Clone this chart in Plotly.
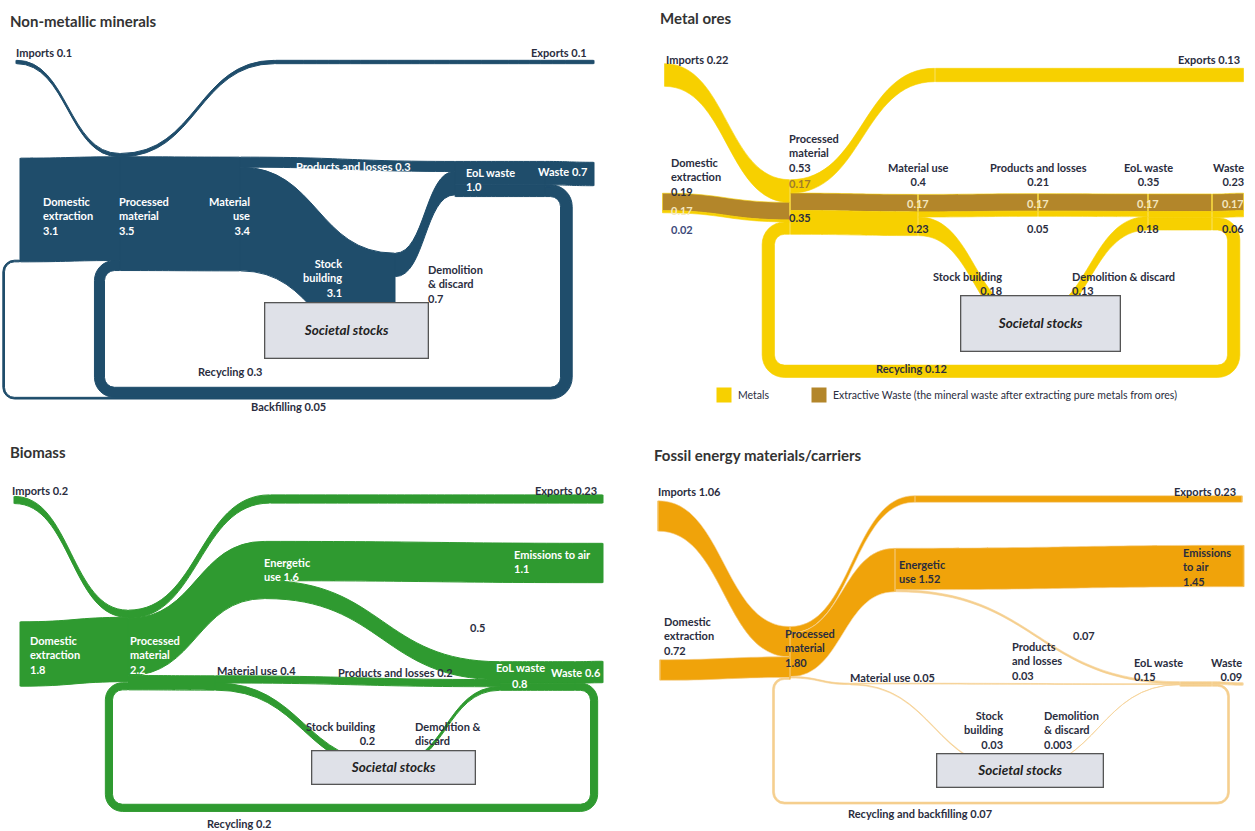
import plotly.graph_objects as go

W, H = 1255, 831

NAVY = "#1f4d6b"
YEL = "#f7d000"
BRN = "#b3862a"
GRN = "#2f9a30"
ORG = "#f0a30a"
PALE = "#f5cf8e"
DARK = "#2a2d3e"

# ---------------- data (values as printed on the chart) ----------------
# Non-metallic minerals
nm_nodes = ["Imports", "Domestic extraction", "Processed material", "Exports (out)", "Exports",
            "Material use", "Societal stocks", "EoL waste", "Waste", "EoL waste (split)"]
nm_source = [0, 1, 2, 3, 2, 5, 5, 6, 7, 7, 7, 9, 9, 9]
nm_target = [2, 2, 3, 4, 5, 7, 6, 7, 9, 9, 9, 8, 2, 1]
nm_value = [0.1, 3.1, 0.1, 0.1, 3.4, 0.3, 3.1, 0.7, 0.7, 0.3, 0.05, 0.7, 0.3, 0.05]

# Metal ores (m = metals, w = extractive waste)
mo_nodes = ["Imports", "Domestic extraction", "Processed material", "Exports (out)", "Exports",
            "Material use", "Products and losses", "Societal stocks", "EoL waste", "Waste",
            "EoL waste (split)"]
mo_source = [0, 1, 1, 2, 3, 2, 2, 5, 5, 5, 6, 6, 7, 8, 8, 8, 10, 10, 10]
mo_target = [2, 2, 2, 3, 4, 5, 5, 6, 6, 7, 8, 8, 8, 10, 10, 10, 9, 9, 2]
mo_value = [0.22, 0.17, 0.02, 0.13, 0.13, 0.17, 0.23, 0.17, 0.05, 0.18, 0.17, 0.05, 0.13,
            0.17, 0.06, 0.12, 0.17, 0.06, 0.12]
mo_kind = ["m", "w", "m", "m", "m", "w", "m", "w", "m", "m", "w", "m", "m",
           "w", "m", "m", "w", "m", "m"]

# Biomass
bi_nodes = ["Imports", "Domestic extraction", "Processed material", "Exports (out)", "Exports",
            "Energetic use", "Emissions to air", "Material use", "Societal stocks", "EoL waste",
            "Waste", "EoL waste (split)"]
bi_source = [0, 1, 2, 3, 2, 2, 5, 5, 7, 7, 8, 9, 9, 11, 11]
bi_target = [2, 2, 3, 4, 5, 7, 6, 9, 9, 8, 9, 11, 11, 10, 2]
bi_value = [0.2, 1.8, 0.23, 0.23, 1.6, 0.4, 1.1, 0.5, 0.2, 0.2, 0.1, 0.6, 0.2, 0.6, 0.2]

# Fossil energy materials/carriers
fo_nodes = ["Imports", "Domestic extraction", "Processed material", "Exports (out)", "Exports",
            "Energetic use", "Emissions to air", "Material use", "Societal stocks", "EoL waste",
            "Waste", "EoL waste (split)"]
fo_source = [0, 1, 2, 3, 2, 2, 5, 5, 7, 7, 8, 9, 9, 11, 11]
fo_target = [2, 2, 3, 4, 5, 7, 6, 9, 9, 8, 9, 11, 11, 10, 2]
fo_value = [1.06, 0.72, 0.23, 0.23, 1.52, 0.05, 1.45, 0.07, 0.03, 0.03, 0.003, 0.09, 0.07,
            0.09, 0.07]

# ---------------- layout positions (pixels) ----------------
nm_dom = (12, 50, 597, 400)
nm_xy = [(16, 62), (20, 210), (120, 212), (275, 62), (594, 62),
         (240, 214), (395, 305), (455, 179), (594, 174), (545, 179)]
mo_dom = (660, 55, 1246, 380)
mo_xy = [(664, 75), (662, 203), (790, 207), (935, 75), (1244, 75),
         (918, 215), (1038, 205), (1031, 323), (1148, 212), (1244, 205), (1212, 212)]
bi_dom = (12, 490, 605, 815)
bi_xy = [(14, 500), (20, 654), (128, 650), (270, 499), (603, 499), (265, 570),
         (603, 563), (215, 683), (392, 767), (500, 676), (603, 672), (575, 676)]
fo_dom = (655, 490, 1245, 810)
fo_xy = [(658, 516), (660, 670), (790, 653), (915, 499), (1242, 499), (895, 570),
         (1244, 566), (850, 684), (1018, 770), (1180, 684), (1243, 684), (1212, 684)]


def frac(v, lo, hi):
    return min(max((v - lo) / (hi - lo), 0.002), 0.998)


def sankey(nodes, source, target, value, link_colors, node_colors, xy, dom, pad, edge, edge_w):
    x0, y0, x1, y1 = dom
    return go.Sankey(
        arrangement="fixed",
        domain=dict(x=[x0 / W, x1 / W], y=[1 - y1 / H, 1 - y0 / H]),
        node=dict(label=nodes, pad=pad, thickness=1, color=node_colors,
                  line=dict(width=0),
                  x=[frac(p[0], x0, x1) for p in xy],
                  y=[frac(p[1], y0, y1) for p in xy]),
        link=dict(source=source, target=target, value=value, color=link_colors,
                  line=dict(color=edge, width=edge_w)),
        textfont=dict(color="rgba(0,0,0,0)", size=1),
    )


fig = go.Figure()
fig.add_trace(sankey(nm_nodes, nm_source, nm_target, nm_value, [NAVY] * len(nm_value),
                     [NAVY] * len(nm_nodes), nm_xy, nm_dom, 108, NAVY, 1))
fig.add_trace(sankey(mo_nodes, mo_source, mo_target, mo_value,
                     [YEL if k == "m" else BRN for k in mo_kind],
                     ["rgba(0,0,0,0)"] * len(mo_nodes), mo_xy, mo_dom, 171, YEL, 0.6))
fig.add_trace(sankey(bi_nodes, bi_source, bi_target, bi_value, [GRN] * len(bi_value),
                     [GRN] * len(bi_nodes), bi_xy, bi_dom, 67, GRN, 1))
fig.add_trace(sankey(fo_nodes, fo_source, fo_target, fo_value,
                     [ORG if v >= 0.2 else PALE for v in fo_value],
                     [ORG if i < 7 else PALE for i in range(len(fo_nodes))],
                     fo_xy, fo_dom, 88, PALE, 0.6))

ann = []


def txt(x, y, s, color=DARK, anchor="left", size=11):
    ann.append(dict(x=x / W, y=1 - y / H, xref="paper", yref="paper", text=s, showarrow=False,
                    xanchor=anchor, yanchor="middle", align=anchor,
                    font=dict(family="Lato", size=size, color=color)))


def title(x, y, s):
    ann.append(dict(x=x / W, y=1 - y / H, xref="paper", yref="paper", text="<b>" + s + "</b>",
                    showarrow=False, xanchor="left", yanchor="middle",
                    font=dict(family="Lato", size=15, color="#333333")))


def stocks_box(x, y, w, h):
    ann.append(dict(x=x / W, y=1 - y / H, xref="paper", yref="paper",
                    text="<b><i>Societal stocks</i></b>", showarrow=False,
                    xanchor="center", yanchor="middle", width=w, height=h,
                    bgcolor="#dfe1e8", bordercolor="#555555", borderwidth=1.3,
                    font=dict(family="Lato", size=13.5, color="#222222")))


def b(s):
    return "<b>" + s + "</b>"


WH = "white"
# Non-metallic minerals
title(8, 21, "Non-metallic minerals")
txt(14, 53, b("Imports 0.1"))
txt(589, 53, b("Exports 0.1"), anchor="right")
txt(294, 166, b("Products and losses 0.3"), WH)
txt(464, 179, b("EoL waste<br>1.0"), WH)
txt(589, 171, b("Waste 0.7"), WH, anchor="right")
txt(41, 216, b("Domestic<br>extraction<br>3.1"), WH)
txt(117, 216, b("Processed<br>material<br>3.5"), WH)
txt(253, 216, b("Material<br>use<br>3.4"), WH, anchor="right")
txt(344, 278, b("Stock<br>building<br>3.1"), WH, anchor="right")
txt(426, 284, b("Demolition<br>&amp; discard<br>0.7"))
stocks_box(346, 331, 160, 52)
txt(230, 372, b("Recycling 0.3"), anchor="center")
txt(288, 406, b("Backfilling 0.05"), anchor="center")

# Metal ores
title(658, 18, "Metal ores")
txt(664, 59, b("Imports 0.22"))
txt(1242, 59, b("Exports 0.13"), anchor="right")
txt(669, 177, b("Domestic<br>extraction<br>0.19"))
txt(669, 210, b("0.17"), "#f3e7c0")
txt(669, 229, b("0.02"), "#3d4a7a")
txt(787, 153, b("Processed<br>material<br>0.53"))
txt(787, 183, b("0.17"), "#a07c2a")
txt(787, 217, b("0.35"))
for cx, name, tot, lo, anc in [(918, "Material use", "0.4", "0.23", "center"),
                                (1038, "Products and losses", "0.21", "0.05", "center"),
                                (1148, "EoL waste", "0.35", "0.18", "center"),
                                (1246, "Waste", "0.23", "0.06", "right")]:
    txt(cx, 175, b(name + "<br>" + tot), anchor=anc)
    txt(cx, 203, b("0.17"), "#f3e7c0", anchor=anc)
    txt(cx, 228, b(lo), anchor=anc)
txt(1004, 283, b("Stock building<br>0.18"), anchor="right")
txt(1070, 283, b("Demolition &amp; discard<br>0.13"))
stocks_box(1040, 323, 156, 52)
txt(911, 368, b("Recycling 0.12"), anchor="center")
for x0, c, s in [(716, YEL, "Metals"),
                 (811, BRN, "Extractive Waste (the mineral waste after extracting pure metals from ores)")]:
    ann.append(dict(x=x0 / W, y=1 - 395 / H, xref="paper", yref="paper", text=" ", showarrow=False,
                    xanchor="left", yanchor="middle", width=12, height=12, bgcolor=c))
    txt(x0 + 20, 395, s, size=10.5)

# Biomass
title(8, 452, "Biomass")
txt(10, 490, b("Imports 0.2"))
txt(599, 490, b("Exports 0.23"), anchor="right")
txt(262, 569, b("Energetic<br>use 1.6"), WH)
txt(512, 561, b("Emissions to air<br>1.1"), WH)
txt(468, 627, b("0.5"))
txt(28, 655, b("Domestic<br>extraction<br>1.8"), WH)
txt(128, 655, b("Processed<br>material<br>2.2"), WH)
txt(215, 670, b("Material use 0.4"))
txt(336, 672, b("Products and losses 0.2"))
txt(494, 667, b("EoL waste"), WH)
txt(510, 683, b("0.8"), WH)
txt(603, 672, b("Waste 0.6"), WH, anchor="right")
txt(377, 733, b("Stock building<br>0.2"), anchor="right")
txt(413, 733, b("Demolition &amp;<br>discard"))
stocks_box(394, 767, 160, 30)
txt(239, 823, b("Recycling 0.2"), anchor="center")

# Fossil energy materials/carriers
title(652, 455, "Fossil energy materials/carriers")
txt(656, 491, b("Imports 1.06"))
txt(1238, 491, b("Exports 0.23"), anchor="right")
txt(897, 571, b("Energetic<br>use 1.52"))
txt(1181, 567, b("Emissions<br>to air<br>1.45"))
txt(662, 636, b("Domestic<br>extraction<br>0.72"))
txt(783, 648, b("Processed<br>material<br>1.80"))
txt(848, 677, b("Material use 0.05"))
txt(1010, 661, b("Products<br>and losses<br>0.03"))
txt(1071, 635, b("0.07"))
txt(1132, 669, b("EoL waste<br>0.15"))
txt(1244, 669, b("Waste<br>0.09"), anchor="right")
txt(1005, 730, b("Stock<br>building<br>0.03"), anchor="right")
txt(1042, 730, b("Demolition<br>&amp; discard<br>0.003"))
stocks_box(1020, 770, 163, 30)
txt(920, 813, b("Recycling and backfilling 0.07"), anchor="center")

fig.update_layout(width=W, height=H, margin=dict(l=0, r=0, t=0, b=0),
                  paper_bgcolor="white", plot_bgcolor="white",
                  font=dict(family="Lato"), annotations=ann, showlegend=False)
fig.write_html("out.html", config={"displayModeBar": False},
               post_script="document.body.style.margin='0px';")
